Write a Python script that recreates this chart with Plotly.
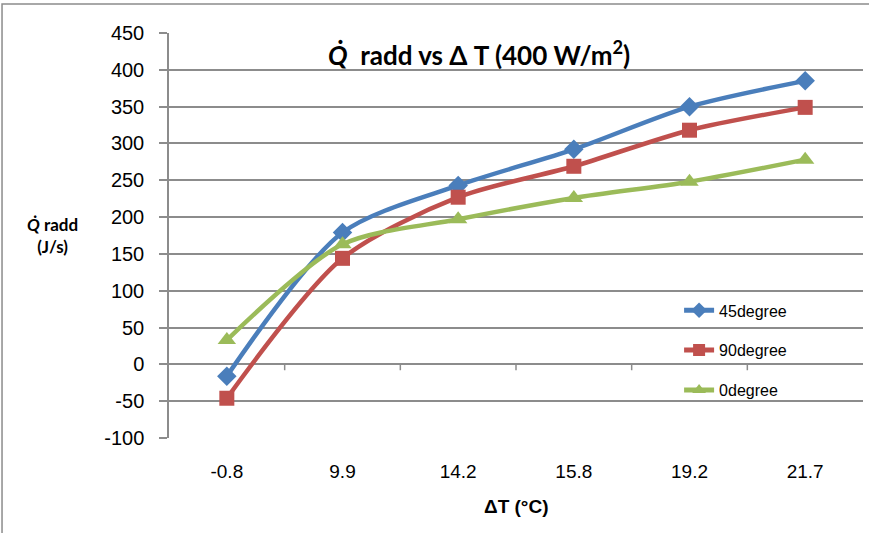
import plotly.graph_objects as go

categories = ["-0.8", "9.9", "14.2", "15.8", "19.2", "21.7"]
s45 = [-16, 179, 243, 292, 350, 385]
s90 = [-46, 144, 227, 269, 318, 349]
s0 = [33, 163, 197, 226, 248, 278]
y_ticks = list(range(-100, 451, 50))
y_ticktext = [str(v) for v in y_ticks]

fig = go.Figure()
series = [
    ("45degree", s45, "#4A7EBB", "diamond", 15),
    ("90degree", s90, "#C0504D", "square", 15),
    ("0degree", s0, "#9BBB59", "triangle-up", 16),
]
for i, (name, vals, col, sym, sz) in enumerate(series):
    fig.add_trace(go.Scatter(
        x=categories, y=vals, name=name, mode="lines+markers",
        line=dict(color=col, width=4.5, shape="spline", smoothing=0.8),
        marker=dict(symbol=sym, size=sz, color=col),
        legendgroup=f"g{i}",
    ))

gray = "#8C8C8C"
fig.update_layout(
    width=869, height=533,
    margin=dict(l=169, r=6, t=33, b=95),
    paper_bgcolor="white", plot_bgcolor="white",
    font=dict(family="Liberation Sans", color="black"),
    showlegend=True,
    legend=dict(x=0.735, y=0.357, xanchor="left", yanchor="top",
                bgcolor="rgba(0,0,0,0)", font=dict(size=16, family="Liberation Sans"),
                tracegroupgap=16, itemwidth=30, itemsizing="constant"),
    xaxis=dict(type="category", range=[-0.5, 5.5], showgrid=False,
               showline=False, zeroline=False,
               ticks="outside", ticklen=16, tickcolor="rgba(0,0,0,0)",
               tickfont=dict(size=19, family="Liberation Sans Narrow, Liberation Sans")),
    yaxis=dict(range=[-100, 450], tickvals=y_ticks, ticktext=y_ticktext, showgrid=True,
               gridcolor=gray, gridwidth=1.5, showline=True, linecolor=gray,
               linewidth=1.5, zeroline=False, ticks="outside", ticklen=8,
               tickcolor=gray, tickwidth=1.5, ticklabelstandoff=11,
               tickfont=dict(size=20, family="Liberation Sans")),
)

# category-boundary tick marks on the horizontal axis (crossing at 0)
for b in [0.5, 1.5, 2.5, 3.5, 4.5]:
    fig.add_shape(type="line", xref="x", yref="y", x0=b, x1=b, y0=0, y1=-8,
                  line=dict(color=gray, width=1.5))

# outer chart border
fig.add_shape(type="rect", xref="paper", yref="paper",
              x0=-0.2406, x1=1.2, y0=-0.4, y1=1.0716,
              line=dict(color=gray, width=1.5), layer="below")

fig.add_annotation(xref="paper", yref="paper", x=0.446, y=1.0,
                   yanchor="top", xanchor="center", showarrow=False,
                   text="<i>Q̇</i>  radd vs Δ T (400 W/m<sup>2</sup>)",
                   font=dict(size=26, family="Lato", color="black", weight="bold"),
                   yshift=-1)
fig.add_annotation(xref="paper", yref="paper", x=-0.168, y=0.5,
                   xanchor="center", yanchor="middle", showarrow=False,
                   text="<b><i>Q̇</i> radd<br>(J/s)</b>",
                   font=dict(size=17, family="Lato", color="black"))
fig.add_annotation(xref="paper", yref="paper", x=0.5, y=-0.17,
                   xanchor="center", yanchor="middle", showarrow=False,
                   text="<b>ΔT (°C)</b>",
                   font=dict(size=19, family="Liberation Sans Narrow, Liberation Sans", color="black"))

fig.write_html("out.html")
